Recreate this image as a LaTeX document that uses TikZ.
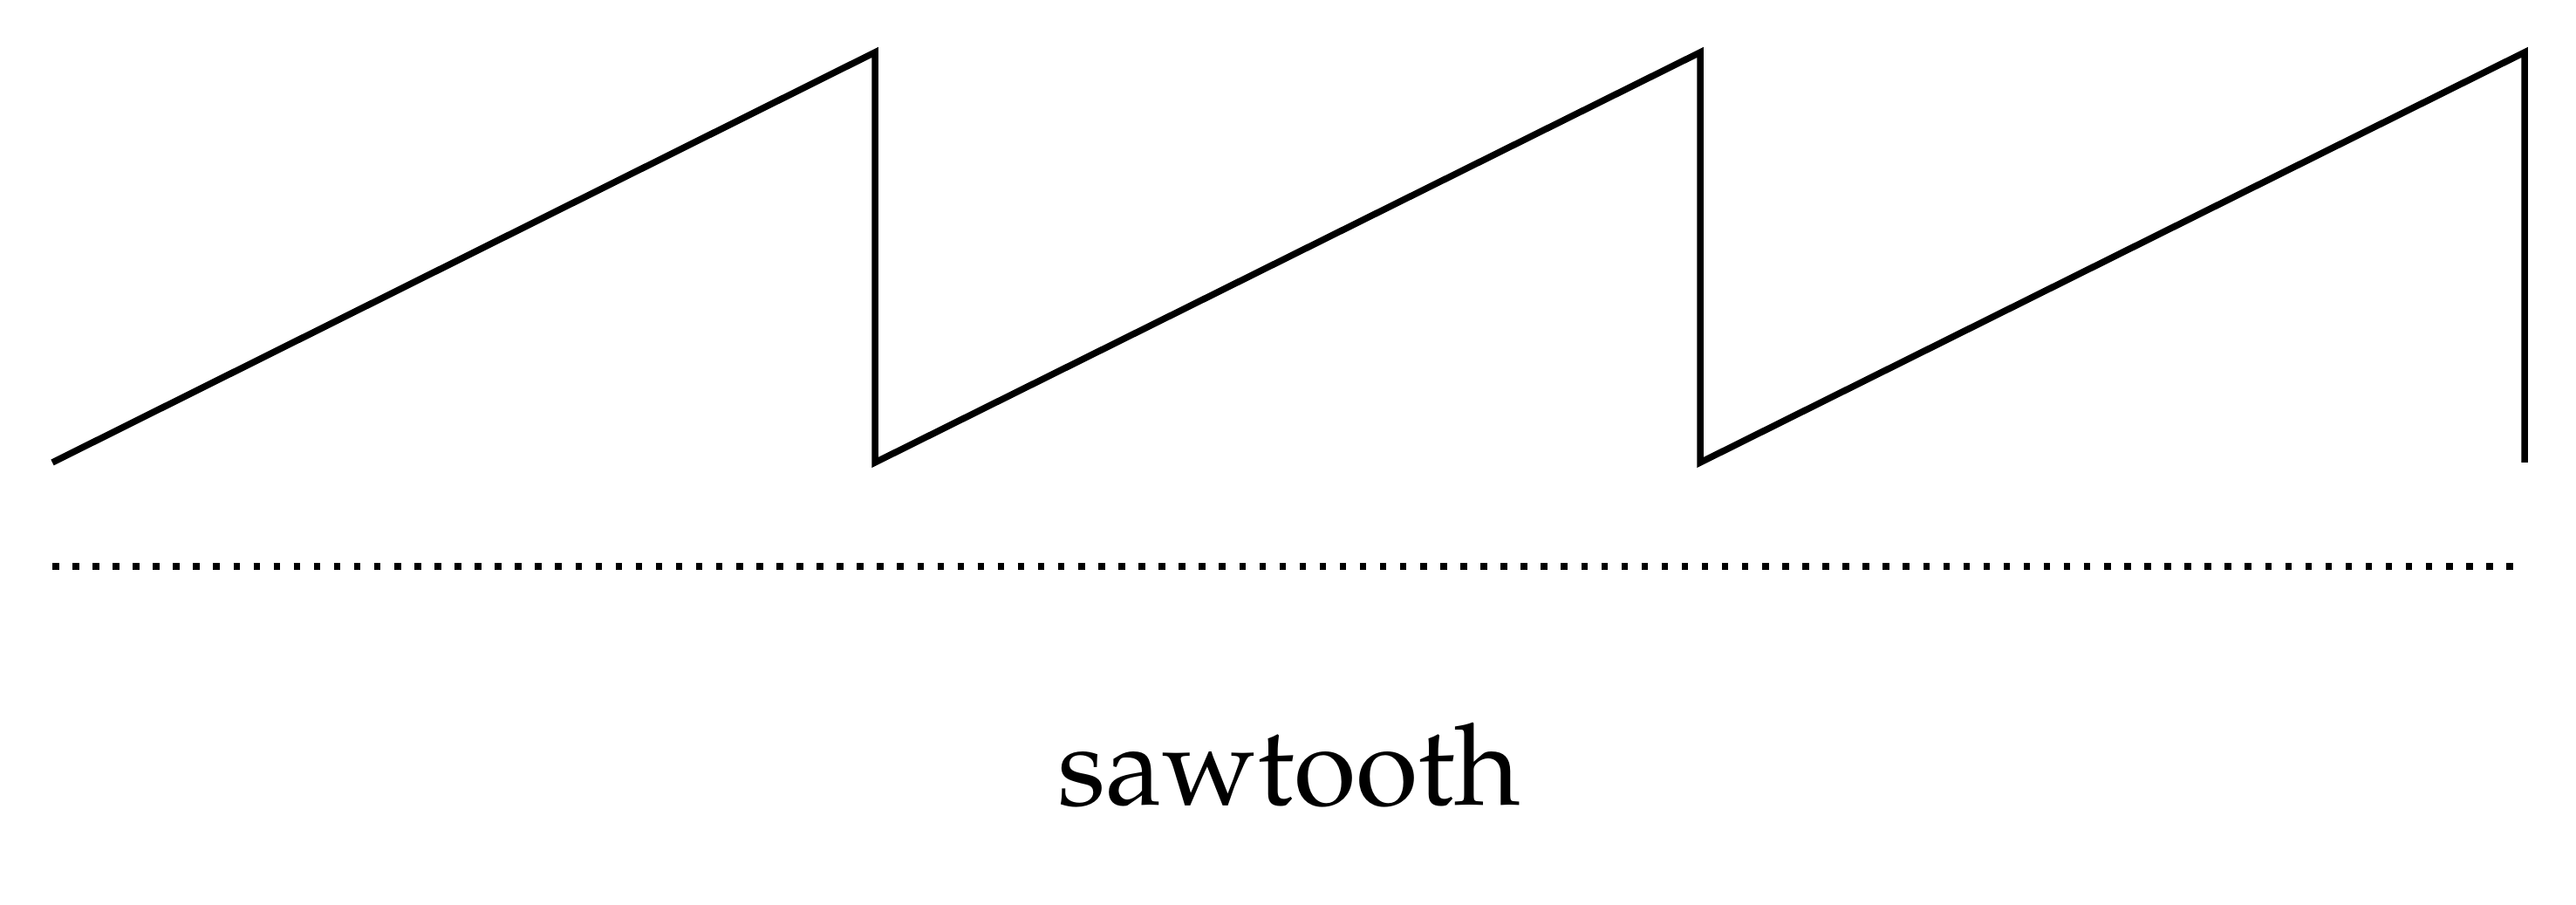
\documentclass[tikz,border=0pt]{standalone}
\usepackage[T1]{fontenc}
\usepackage{mathpazo}
\usepackage{tikz}

\begin{document}
\begin{tikzpicture}[x=1cm,y=1cm,
    wave/.style={line width=0.075cm, line join=miter},
    axisdots/.style={line width=0.075cm, dash pattern=on 0.075cm off 0.1556cm}]
    \useasboundingbox (0,0) rectangle (29.53,10.37);
    % Sawtooth wave
    \draw[wave] (0.60,5.07) -- (10.03,9.77) -- (10.03,5.07)
        -- (19.49,9.77) -- (19.49,5.07)
        -- (28.94,9.77) -- (28.94,5.07);
    % Dotted axis
    \draw[axisdots] (0.60,3.88) -- (28.81,3.88);
    % Caption
    \node[font=\fontencoding{T1}\fontfamily{ppl}\fontsize{37}{44}\selectfont, anchor=base] (caption) at (14.78,1.14) {sawtooth};
\end{tikzpicture}
\end{document}
